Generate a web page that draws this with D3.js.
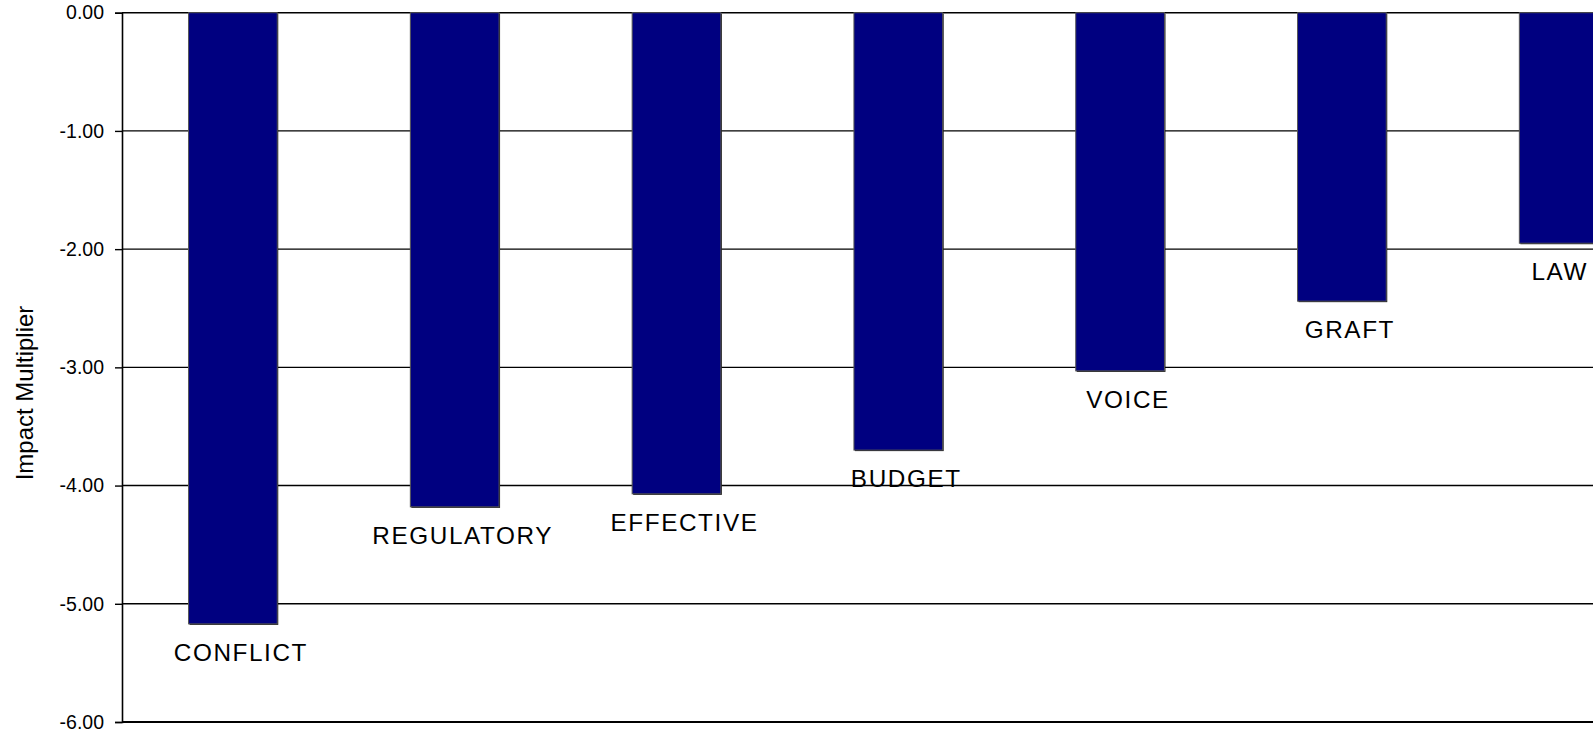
<!DOCTYPE html>
<html>
<head>
<meta charset="utf-8">
<script src="https://cdn.jsdelivr.net/npm/d3@7"></script>
<style>
  html, body { margin: 0; padding: 0; background: #fff; overflow: hidden; }
  svg { display: block; }
  text { font-family: "Liberation Sans", Arial, sans-serif; fill: #000; }
</style>
</head>
<body>
<svg id="chart" width="1593" height="739"></svg>
<script>
const categories = ["CONFLICT", "REGULATORY", "EFFECTIVE", "BUDGET", "VOICE", "GRAFT", "LAW"];
const values = [-5.17, -4.18, -4.07, -3.70, -3.03, -2.44, -1.95];
const tickValues = [0, -1, -2, -3, -4, -5, -6];
const yTitle = "Impact Multiplier";

const svg = d3.select("#chart");
const W = 1593, H = 739;
const axisX = 122;
const plotRight = 1674.6;
const yTop = 12.7, yBottom = 722;

const x = d3.scaleBand().domain(categories).range([axisX, plotRight])
  .paddingInner(0.6).paddingOuter(0.3);
const y = d3.scaleLinear().domain([-6, 0]).range([yBottom, yTop]);

const data = categories.map((c, i) => ({ c, v: values[i] }));

// category labels (drawn under gridlines as in the reference)
const labels = svg.append("g").selectAll("text").data(data).join("text")
  .attr("y", d => y(d.v) + 37)
  .attr("text-anchor", "middle")
  .style("font-size", "24.3px")
  .style("letter-spacing", "1.6px")
  .text(d => d.c);
labels.attr("x", function(d) {
  const cx = x(d.c) + x.bandwidth() / 2 + 8;
  const half = this.getComputedTextLength() / 2;
  return Math.min(cx, W - 5 - half);
});

// gridlines
svg.append("g").selectAll("line").data(tickValues.filter(t => t > -6)).join("line")
  .attr("x1", axisX).attr("x2", W)
  .attr("y1", d => y(d)).attr("y2", d => y(d))
  .attr("stroke", "#000").attr("stroke-width", 1.4);

// bars: shadow + body
svg.append("g").selectAll("rect").data(data).join("rect")
  .attr("x", d => x(d.c) + 1)
  .attr("y", y(0) + 1)
  .attr("width", x.bandwidth())
  .attr("height", d => y(d.v) - y(0))
  .attr("fill", "#111");
svg.append("g").selectAll("rect").data(data).join("rect")
  .attr("x", d => x(d.c))
  .attr("y", y(0))
  .attr("width", x.bandwidth())
  .attr("height", d => y(d.v) - y(0))
  .attr("fill", "#000080")
  .attr("stroke", "#555")
  .attr("stroke-width", 1);

// bottom axis line
svg.append("line")
  .attr("x1", axisX).attr("x2", W)
  .attr("y1", y(-6)).attr("y2", y(-6))
  .attr("stroke", "#000").attr("stroke-width", 2);

// y axis
const yAxis = d3.axisLeft(y).tickValues(tickValues).tickSize(7).tickPadding(11)
  .tickFormat(d => d.toFixed(2));
const gy = svg.append("g").attr("transform", `translate(${axisX},0)`).call(yAxis);
gy.select(".domain").attr("stroke", "#000").attr("stroke-width", 1.6);
gy.selectAll(".tick line").attr("stroke", "#000").attr("stroke-width", 1.4);
gy.selectAll(".tick text")
  .style("font-family", "\"Liberation Sans\", Arial, sans-serif")
  .style("font-size", "19.5px")
  .attr("fill", "#000");

// y title
svg.append("text")
  .attr("transform", "translate(33,393) rotate(-90)")
  .attr("text-anchor", "middle")
  .style("font-size", "24px")
  .text(yTitle);
</script>
</body>
</html>
